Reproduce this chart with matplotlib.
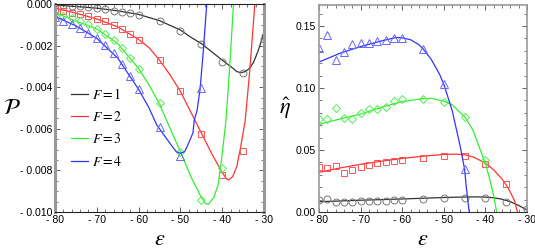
import matplotlib

matplotlib.use("Agg")
import matplotlib.pyplot as plt
from matplotlib.ticker import FuncFormatter, MultipleLocator

plt.rcParams["mathtext.fontset"] = "stix"
plt.rcParams["font.family"] = ["Liberation Sans", "DejaVu Sans"]

# sampled energies for the markers
eps_pts = [-80, -78, -76, -74, -72, -70, -68, -66, -64, -62, -60, -55, -50, -45, -40, -35, -30]

# left panel: P(eps), markers
p_f1 = [-0.00005, -0.00006, -0.00008, -0.0001, -0.00016, -0.0002, -0.00026, -0.00032,
        -0.00038, -0.00045, -0.00053, -0.0008, -0.00128, -0.00192, -0.00277, -0.0033, -0.0017]
p_f2 = [-0.00025, -0.00032, -0.00042, -0.00048, -0.00058, -0.0007, -0.00082, -0.001,
        -0.0012, -0.00144, -0.00173, -0.0027, -0.0042, -0.00627, -0.0082, -0.00705]
p_f3 = [-0.00048, -0.00058, -0.00069, -0.00082, -0.00096, -0.00122, -0.00146, -0.00173,
        -0.0021, -0.00258, -0.00313, -0.00478, -0.00712, -0.00942, -0.0079]
p_f4 = [-0.00064, -0.0008, -0.00096, -0.00117, -0.00141, -0.00165, -0.00197, -0.00237,
        -0.0029, -0.00346, -0.0041, -0.0059, -0.0073, -0.00405]

# left panel: fitted curves
pl_f1_x = [-80, -75, -70, -65, -60, -55, -50, -47.5, -45, -42.5, -40, -38, -36.5, -35.5,
           -34.5, -33.5, -32.5, -31.5, -30.5, -30]
pl_f1_y = [-0.00005, -0.00012, -0.0002, -0.00033, -0.0005, -0.0008, -0.00125, -0.0016,
           -0.0019, -0.0023, -0.0027, -0.003, -0.00325, -0.0033, -0.00325, -0.0031,
           -0.0028, -0.0023, -0.0017, -0.0013]
pl_f2_x = [-80, -75, -70, -65, -60, -57.5, -55, -52.5, -50, -47.5, -45, -42.5, -40, -39,
           -38.5, -37.5, -36.5, -35.7, -34.5, -33.5, -32.8, -32.2]
pl_f2_y = [-0.0002, -0.00044, -0.00072, -0.0011, -0.0017, -0.0021, -0.0027, -0.0034,
           -0.0042, -0.0052, -0.0062, -0.0072, -0.0081, -0.0084, -0.00846, -0.0083,
           -0.0078, -0.007, -0.0056, -0.0034, -0.0016, 0.0]
pl_f3_x = [-80, -75, -70, -65, -60, -57.5, -55, -53.3, -50, -47.5, -45, -44, -43.3, -42,
           -41, -40.5, -40, -39.1, -38.2, -37.3]
pl_f3_y = [-0.00042, -0.00082, -0.0012, -0.0019, -0.0031, -0.0039, -0.0048, -0.0056,
           -0.0071, -0.0083, -0.0093, -0.0096, -0.00963, -0.0093, -0.0087, -0.008,
           -0.0072, -0.0056, -0.003, 0.0]
pl_f4_x = [-80, -75, -70, -65, -60, -57.5, -55.7, -52.5, -51, -50, -49, -48.5, -47,
           -46.7, -46, -45.3, -44.5, -43.7]
pl_f4_y = [-0.0006, -0.00105, -0.00165, -0.0026, -0.0041, -0.005, -0.0058, -0.0067,
           -0.0071, -0.00718, -0.0071, -0.0069, -0.0062, -0.0056, -0.0051, -0.0041,
           -0.0022, 0.0]

# right panel: eta_hat(eps), markers
e_f1 = [0.0097, 0.0105, 0.0078, 0.0077, 0.0083, 0.0089, 0.0089, 0.0087, 0.0091, 0.0097,
        0.0094, 0.0102, 0.011, 0.0116, 0.0113, 0.0083, 0.0022]
e_f2 = [0.036, 0.0352, 0.037, 0.0317, 0.0339, 0.036, 0.0376, 0.0392, 0.0406, 0.0414,
        0.042, 0.0433, 0.0454, 0.0454, 0.0387, 0.0223]
e_f3 = [0.075, 0.075, 0.0836, 0.0755, 0.075, 0.080, 0.083, 0.083, 0.085, 0.0898,
        0.0909, 0.0909, 0.089, 0.0769, 0.042]
e_f4 = [0.132, 0.1427, 0.123, 0.129, 0.1355, 0.136, 0.136, 0.1376, 0.139, 0.1406,
        0.1406, 0.1317, 0.103, 0.0344]

# right panel: fitted curves
el_f1_x = [-80, -70, -60, -50, -45, -42, -40, -38, -36, -34, -32, -30]
el_f1_y = [0.0083, 0.0095, 0.0105, 0.0117, 0.0121, 0.0122, 0.012, 0.0115, 0.0103,
           0.0083, 0.0053, 0.0016]
el_f2_x = [-80, -75, -70, -65, -60, -55, -50, -47, -45, -43, -40, -38, -36, -35, -34,
           -33, -32.3]
el_f2_y = [0.032, 0.0355, 0.0385, 0.041, 0.0432, 0.045, 0.0465, 0.0467, 0.0462, 0.0445,
           0.0395, 0.034, 0.0265, 0.0218, 0.016, 0.009, 0.0]
el_f3_x = [-80, -75, -70, -65, -60, -55, -53, -50, -48, -46, -45, -43, -41, -40, -39,
           -38, -37.3]
el_f3_y = [0.0707, 0.075, 0.079, 0.0845, 0.089, 0.0915, 0.0917, 0.0895, 0.0865, 0.080,
           0.077, 0.066, 0.048, 0.039, 0.027, 0.013, 0.0]
el_f4_x = [-80, -75, -70, -65, -61.5, -60, -58, -56, -55, -53, -51, -50, -48, -46, -45,
           -44.6, -43.9]
el_f4_y = [0.121, 0.128, 0.1335, 0.138, 0.1408, 0.1405, 0.139, 0.135, 0.1317, 0.123,
           0.111, 0.103, 0.082, 0.052, 0.0344, 0.02, 0.0]

labels = ["$F = 1$", "$F = 2$", "$F = 3$", "$F = 4$"]
line_colors = ["#333333", "#ff3333", "#33ee33", "#3333ff"]
marker_colors = ["#777777", "#ff5555", "#55ee55", "#6666ff"]
markers = ["o", "s", "D", "^"]
marker_sizes = [5, 5, 4, 5.5]


def minus_fmt(decimals):
    def f(v, _):
        if abs(v) < 1e-12:
            return f"{0:.{decimals}f}"
        s = f"{abs(v):.{decimals}f}"
        return f"- {s}" if v < 0 else s
    return FuncFormatter(f)


def style_axes(ax, xmajor, xminor, ymajor, yminor):
    ax.xaxis.set_major_locator(MultipleLocator(xmajor))
    ax.xaxis.set_minor_locator(MultipleLocator(xminor))
    ax.yaxis.set_major_locator(MultipleLocator(ymajor))
    ax.yaxis.set_minor_locator(MultipleLocator(yminor))
    ax.tick_params(which="both", direction="in", top=True, right=True,
                   labelsize=7.6, pad=2, color="#444444")
    ax.tick_params(which="major", length=3.5, width=0.6)
    ax.tick_params(which="minor", length=2, width=0.5)


fig = plt.figure(figsize=(5.35, 2.5), dpi=100)
ax1 = fig.add_axes([0.1028, 0.152, 0.3907, 0.832])
ax2 = fig.add_axes([0.5963, 0.152, 0.3888, 0.828])

p_marks = [p_f1, p_f2, p_f3, p_f4]
p_lines = [(pl_f1_x, pl_f1_y), (pl_f2_x, pl_f2_y), (pl_f3_x, pl_f3_y), (pl_f4_x, pl_f4_y)]
e_marks = [e_f1, e_f2, e_f3, e_f4]
e_lines = [(el_f1_x, el_f1_y), (el_f2_x, el_f2_y), (el_f3_x, el_f3_y), (el_f4_x, el_f4_y)]

for i in range(4):
    lx, ly = p_lines[i]
    ax1.plot(lx, ly, color=line_colors[i], lw=0.9, label=labels[i])
    ax1.plot(eps_pts[:len(p_marks[i])], p_marks[i], ls="none", marker=markers[i],
             ms=marker_sizes[i], mfc="none", mec=marker_colors[i], mew=0.7)
    lx, ly = e_lines[i]
    ax2.plot(lx, ly, color=line_colors[i], lw=0.9)
    ax2.plot(eps_pts[:len(e_marks[i])], e_marks[i], ls="none", marker=markers[i],
             ms=marker_sizes[i], mfc="none", mec=marker_colors[i], mew=0.7)

ax1.set_xlim(-80, -30)
ax1.set_ylim(-0.010, 0.0)
style_axes(ax1, 10, 2, 0.002, 0.0005)
ax1.xaxis.set_major_formatter(minus_fmt(0))
ax1.yaxis.set_major_formatter(minus_fmt(3))
for side in ["left", "right"]:
    ax1.spines[side].set_color("#999999")
    ax1.spines[side].set_linewidth(2.2)
for side in ["top", "bottom"]:
    ax1.spines[side].set_color("#222222")
    ax1.spines[side].set_linewidth(0.8)
ax1.set_xlabel(r"$\epsilon$", fontsize=16, labelpad=3)
ax1.set_ylabel(r"$\mathcal{P}$", fontsize=16, rotation=0, labelpad=6, va="center")
leg = ax1.legend(loc="upper left", bbox_to_anchor=(0.05, 0.63), frameon=False,
                 fontsize=10, handlelength=1.2, handletextpad=0.3, labelspacing=0.6,
                 borderaxespad=0)

ax2.set_xlim(-80, -30)
ax2.set_ylim(0.0, 0.167)
style_axes(ax2, 10, 2, 0.05, 0.01)
ax2.xaxis.set_major_formatter(minus_fmt(0))
ax2.yaxis.set_major_formatter(minus_fmt(2))
for side in ["left", "right", "top", "bottom"]:
    ax2.spines[side].set_color("#999999")
    ax2.spines[side].set_linewidth(1.2)
ax2.spines["bottom"].set_color("#333333")
ax2.spines["bottom"].set_linewidth(0.8)
ax2.set_xlabel(r"$\epsilon$", fontsize=16, labelpad=3)
ax2.set_ylabel(r"$\hat{\eta}$", fontsize=16, rotation=0, labelpad=8, va="center")

fig.savefig("out.png", dpi=100)
